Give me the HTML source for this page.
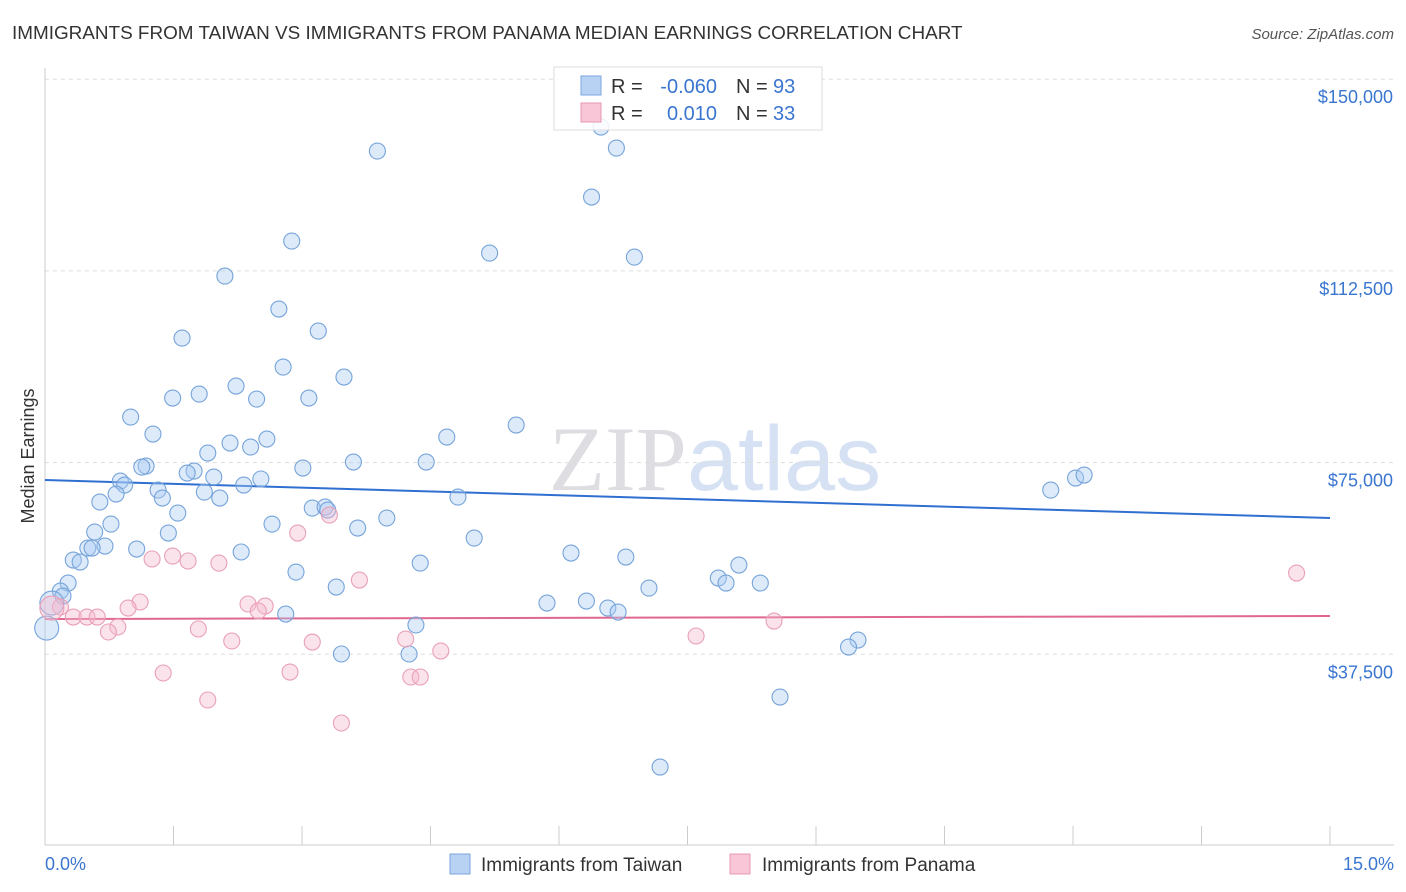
<!DOCTYPE html>
<html><head><meta charset="utf-8"><style>
body{margin:0;background:#fff;font-family:"Liberation Sans",sans-serif;}
svg{display:block}
</style></head><body>
<svg id="chart" width="1406" height="892" xmlns="http://www.w3.org/2000/svg">
<text x="12" y="39" font-size="18.9" fill="#333">IMMIGRANTS FROM TAIWAN VS IMMIGRANTS FROM PANAMA MEDIAN EARNINGS CORRELATION CHART</text>
<text x="1394" y="39" font-size="15" fill="#555" text-anchor="end" font-style="italic">Source: ZipAtlas.com</text>
<text x="715" y="490" font-size="92" text-anchor="middle" fill="#e8e8ec"><tspan font-family="Liberation Serif" fill="#dedee2">ZIP</tspan><tspan fill="#d6e2f4">atlas</tspan></text>
<g id="grid"></g>
<g id="axes"></g>
<text transform="translate(34,456) rotate(-90)" font-size="18" fill="#333" text-anchor="middle">Median Earnings</text>
<g id="trend"></g>
<g id="pts"></g>
<g>
<rect x="554" y="67" width="268" height="63" fill="#fff" fill-opacity="0.85" stroke="#ddd"/>
<rect x="581" y="76" width="20" height="19" fill="#b8d2f4" stroke="#7aa6dc"/>
<rect x="581" y="103" width="20" height="19" fill="#f8c6d6" stroke="#e898b0"/>
<text x="611" y="93" font-size="20" fill="#333">R =</text>
<text x="717" y="93" font-size="20" fill="#3a76d0" text-anchor="end">-0.060</text>
<text x="736" y="93" font-size="20" fill="#333">N =</text>
<text x="773" y="93" font-size="20" fill="#3a76d0">93</text>
<text x="611" y="120" font-size="20" fill="#333">R =</text>
<text x="717" y="120" font-size="20" fill="#3a76d0" text-anchor="end">0.010</text>
<text x="736" y="120" font-size="20" fill="#333">N =</text>
<text x="773" y="120" font-size="20" fill="#3a76d0">33</text>
</g>
<g>
<rect x="450" y="854" width="20" height="20" fill="#b8d2f4" stroke="#7aa6dc"/>
<text x="481" y="871" font-size="19" fill="#333">Immigrants from Taiwan</text>
<rect x="730" y="854" width="20" height="20" fill="#f8c6d6" stroke="#e898b0"/>
<text x="762" y="871" font-size="19" fill="#333">Immigrants from Panama</text>
</g>
<text x="45" y="870" font-size="18" fill="#3a76d0">0.0%</text>
<text x="1394" y="870" font-size="18" fill="#3a76d0" text-anchor="end">15.0%</text>
</svg>
<script>
const yTicks=[37500,75000,112500,150000];
const yTickLabels=["$37,500","$75,000","$112,500","$150,000"];
const taiwanX=[6.49,3.88,6.67,6.38,2.88,5.19,6.88,2.10,2.73,3.19,1.60,2.78,3.49,2.23,1.80,1.49,2.47,3.08,1.00,5.50,1.26,4.69,2.59,2.16,2.40,1.90,3.60,4.45,1.18,1.13,3.01,1.74,1.66,1.97,0.88,2.52,0.93,2.32,1.32,0.83,1.86,1.37,2.04,4.82,0.64,1.55,3.12,3.27,3.30,3.99,0.77,2.65,3.65,0.58,1.44,5.01,0.50,0.70,0.55,1.07,2.29,6.14,6.78,0.33,0.41,4.38,8.10,2.93,7.86,7.95,8.35,0.27,3.40,7.05,0.18,0.21,5.86,6.32,6.57,6.69,2.81,4.33,9.49,9.38,3.46,4.25,8.58,7.18,11.74,12.03,12.13,0.02,0.08];
const taiwanY=[140640,135940,136530,126950,118340,115990,115210,111490,105040,100730,99360,93690,91740,89980,88410,87630,87430,87630,83910,82350,80590,80000,79610,78830,78040,76870,75110,75110,74330,74130,73940,73350,72960,72180,71390,71790,70610,70610,69630,68850,69240,68070,68070,68260,67290,65130,66110,66310,65720,64160,62980,62980,62200,61420,61220,60240,58290,58680,58290,58090,57510,57310,56530,55940,55550,55350,54960,53590,52420,51440,51440,51440,50660,50460,49880,48900,47530,47920,46550,45770,45380,43230,40290,38920,37560,37560,29140,15450,69630,71980,72570,42640,47530];
const panamaX=[3.32,2.95,1.25,1.49,1.67,2.03,3.67,14.61,1.11,0.97,2.37,2.57,2.49,0.18,0.33,0.49,0.61,0.85,0.74,1.79,2.18,3.12,4.21,4.62,7.60,8.51,1.38,2.86,1.90,4.27,4.38,3.46,0.08];
const panamaY=[64740,61220,56140,56720,55750,55350,52030,53400,47730,46550,47340,46940,45970,46750,44790,44790,44790,42840,41860,42450,40100,39900,40490,38140,41080,44010,33840,34030,28560,33060,33060,24060,46550];
const taiwanTrend=[71590,64160];
const panamaTrend=[44400,44990];
const NS="http://www.w3.org/2000/svg";
const X=p=>45+p/15*1285;
const Y=v=>846-v/37500*191.7;
function mk(t,a,parent){const e=document.createElementNS(NS,t);for(const k in a)e.setAttribute(k,a[k]);parent.appendChild(e);return e;}
const grid=document.getElementById('grid'),axes=document.getElementById('axes');
yTicks.forEach((v,i)=>{
 const l=mk('line',{x1:45,x2:1394,y1:Y(v),y2:Y(v),stroke:'#ddd','stroke-dasharray':'4,4'},grid);
 
 
 const t=mk('text',{x:1393,y:Y(v)+24,'font-size':18,fill:'#3a76d0','text-anchor':'end'},axes);
 t.textContent=yTickLabels[i];
 
 
});
const ax=mk('line',{x1:45,x2:1394,y1:845,y2:845,stroke:'#ccc'},axes);


const ay=mk('line',{x1:45,x2:45,y1:68,y2:845,stroke:'#ccc'},axes);


for(let i=0;i<=10;i++){const t=mk('line',{x1:X(i*1.5),x2:X(i*1.5),y1:826,y2:845,stroke:'#ccc'},axes);
 
 }
const pts=document.getElementById('pts');
function series(xs,ys,fill,stroke,name){xs.forEach((x,i)=>{const big=(x<0.1);
 const c=mk('circle',{cx:X(x),cy:Y(ys[i]),r:big?12:8,fill:fill,stroke:stroke,'stroke-width':1.1},pts);
 
 });}
series(taiwanX,taiwanY,'rgba(170,202,242,0.4)','#76a4da','taiwan-point');
series(panamaX,panamaY,'rgba(246,186,206,0.4)','#e9a0b8','panama-point');
const tr=document.getElementById('trend');
const t1=mk('line',{x1:X(0),x2:X(15),y1:Y(taiwanTrend[0]),y2:Y(taiwanTrend[1]),stroke:'#2f6fd0','stroke-width':2},tr);


const t2=mk('line',{x1:X(0),x2:X(15),y1:Y(panamaTrend[0]),y2:Y(panamaTrend[1]),stroke:'#e06890','stroke-width':2},tr);


</script>
</body></html>
